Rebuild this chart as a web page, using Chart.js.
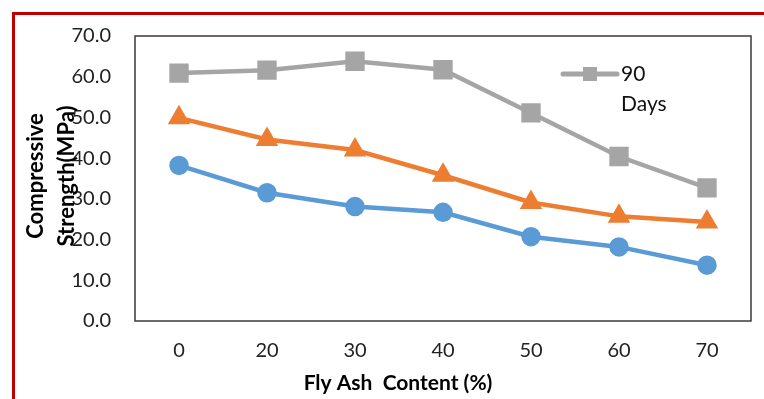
<!DOCTYPE html>
<html>
<head>
<meta charset="utf-8">
<script src="https://cdn.jsdelivr.net/npm/chart.js@4"></script>
<style>
  html, body { margin: 0; padding: 0; background: #fff; }
  #wrap { position: relative; width: 764px; height: 399px; }
  #frame { position: absolute; left: 12px; top: 12px; right: 0; bottom: 0;
           border-top: 3px solid #c00000; border-left: 3px solid #c00000; }
  canvas { position: absolute; left: 0; top: 0; }
</style>
</head>
<body>
<div id="wrap">
  <div id="frame"></div>
  <canvas id="lineChart" width="764" height="399"></canvas>
</div>
<script>
// fly ash content (%)
var flyAsh = ["0", "20", "30", "40", "50", "60", "70"];
var yTicks = [0, 10, 20, 30, 40, 50, 60, 70];

var days7  = [38.2, 31.5, 28.1, 26.7, 20.7, 18.2, 13.7];
var days28 = [49.9, 44.6, 42.0, 35.8, 29.1, 25.7, 24.3];
var days90 = [60.9, 61.6, 63.8, 61.7, 51.1, 40.4, 32.7];

var FONT = "Lato, 'Open Sans', sans-serif";

// frame, axis titles and the single visible legend entry
var extras = {
  id: 'extras',
  beforeDatasetsDraw: function(chart) {
    var a = chart.chartArea, ctx = chart.ctx;
    ctx.save();
    ctx.strokeStyle = '#3a3a3a';
    ctx.lineWidth = 1.5;
    ctx.strokeRect(a.left, a.top, a.right - a.left, a.bottom - a.top);
    ctx.restore();
  },
  afterDraw: function(chart) {
    var ctx = chart.ctx;
    ctx.save();
    ctx.fillStyle = '#000';
    ctx.font = "bold 21px " + FONT;
    ctx.textAlign = 'center';
    ctx.textBaseline = 'middle';
    ctx.fillText('Fly Ash  Content (%)', 398, 383);

    ctx.font = "bold 22px " + FONT;
    ctx.translate(0, 176);
    ctx.rotate(-Math.PI / 2);
    ctx.fillText('Compressive', 0, 36);
    ctx.fillText('Strength(MPa)', 0, 67);
    ctx.restore();

    // legend: 90 Days
    ctx.save();
    ctx.strokeStyle = '#a5a5a5';
    ctx.lineWidth = 5;
    ctx.lineCap = 'round';
    ctx.beginPath();
    ctx.moveTo(563, 74);
    ctx.lineTo(617, 74);
    ctx.stroke();
    ctx.fillStyle = '#a5a5a5';
    ctx.fillRect(583, 67, 14, 14);
    ctx.fillStyle = '#111';
    ctx.font = "21px " + FONT;
    ctx.textAlign = 'left';
    ctx.textBaseline = 'middle';
    ctx.fillText('90', 621, 74);
    ctx.fillText('Days', 621, 104);
    ctx.restore();
  }
};

var ctxL = document.getElementById("lineChart").getContext('2d');
var myLineChart = new Chart(ctxL, {
  type: 'line',
  data: {
    labels: flyAsh,
    datasets: [
      {
        label: "7 Days",
        data: days7,
        borderColor: '#5b9bd5',
        backgroundColor: '#5b9bd5',
        borderWidth: 4.5,
        pointStyle: 'circle',
        pointRadius: 7.5,
        pointHoverRadius: 7.5
      },
      {
        label: "28 Days",
        data: days28,
        borderColor: '#ed7d31',
        backgroundColor: '#ed7d31',
        borderWidth: 4.5,
        pointStyle: 'triangle',
        pointRadius: 8.5,
        pointHoverRadius: 8.5
      },
      {
        label: "90 Days",
        data: days90,
        borderColor: '#a5a5a5',
        backgroundColor: '#a5a5a5',
        borderWidth: 4.5,
        pointStyle: 'rect',
        pointRadius: 10.5,
        pointHoverRadius: 10.5
      }
    ]
  },
  options: {
    responsive: false,
    animation: false,
    layout: { autoPadding: false, padding: { left: 0, top: 32, right: 13, bottom: 0 } },
    plugins: {
      legend: { display: false },
      tooltip: { enabled: false }
    },
    scales: {
      x: {
        offset: true,
        grid: { display: false, drawTicks: false },
        border: { display: false },
        ticks: { color: '#222', padding: 18, font: { family: FONT, size: 20 } },
        afterFit: function(s) { s.height = 78; }
      },
      y: {
        min: yTicks[0],
        max: yTicks[yTicks.length - 1],
        afterBuildTicks: function(s) { s.ticks = yTicks.map(function(v) { return { value: v }; }); },
        grid: { display: false, drawTicks: false },
        border: { display: false },
        ticks: {
          color: '#222', padding: 24, font: { family: FONT, size: 20 },
          callback: function(v) { return v.toFixed(1); }
        },
        afterFit: function(s) { s.width = 135; }
      }
    }
  },
  plugins: [extras]
});
</script>
</body>
</html>
